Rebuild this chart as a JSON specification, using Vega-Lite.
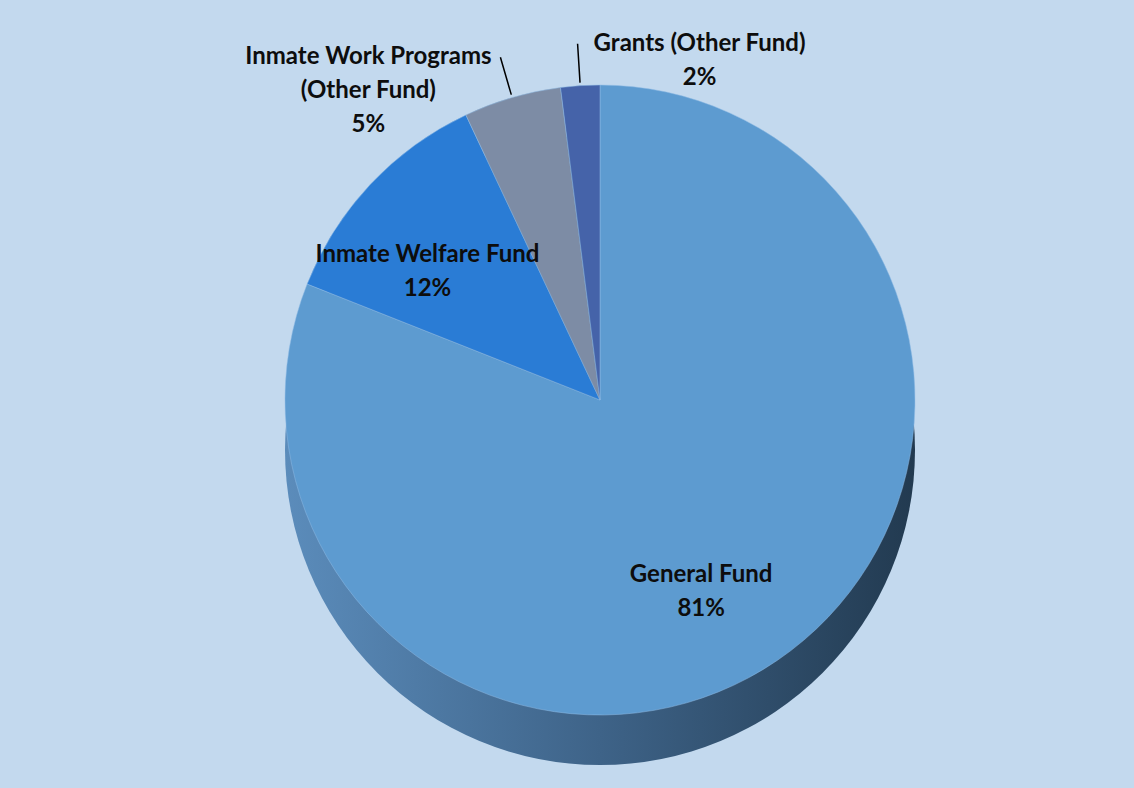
{
  "$schema": "https://vega.github.io/schema/vega-lite/v6.json",
  "autosize": "none",
  "padding": {"left": 66, "top": 12, "right": 0, "bottom": 0},
  "width": 1068,
  "height": 776,
  "background": "#C3D9EE",
  "config": {"view": {"stroke": null}},
  "data": {
    "values": [
      {"fund": "General Fund", "value": 81, "ord": 1, "inner": "General Fund\n81%", "outerL": "", "outerR": ""},
      {"fund": "Inmate Welfare Fund", "value": 12, "ord": 2, "inner": "Inmate Welfare Fund\n12%", "outerL": "", "outerR": ""},
      {"fund": "Inmate Work Programs (Other Fund)", "value": 5, "ord": 3, "inner": "", "outerL": "Inmate Work Programs\n(Other Fund)\n5%", "outerR": ""},
      {"fund": "Grants (Other Fund)", "value": 2, "ord": 4, "inner": "", "outerL": "", "outerR": "Grants (Other Fund)\n2%"}
    ]
  },
  "layer": [
    {
      "transform": [{"aggregate": [{"op": "sum", "field": "value", "as": "total"}]}],
      "mark": {
        "type": "arc",
        "outerRadius": 315,
        "yOffset": 50,
        "fill": {
          "gradient": "linear", "x1": 0, "x2": 1, "y1": 0, "y2": 0,
          "stops": [{"offset": 0, "color": "#5B8CBB"}, {"offset": 0.5, "color": "#3E6388"}, {"offset": 1, "color": "#223A50"}]
        }
      },
      "encoding": {"theta": {"field": "total", "type": "quantitative"}}
    },
    {
      "mark": {"type": "arc", "outerRadius": 315, "stroke": "#8FBBE4", "strokeWidth": 0.5},
      "encoding": {
        "theta": {"field": "value", "type": "quantitative", "stack": true},
        "order": {"field": "ord", "type": "quantitative"},
        "color": {
          "field": "fund", "type": "nominal", "legend": null,
          "scale": {
            "domain": ["General Fund", "Inmate Welfare Fund", "Inmate Work Programs (Other Fund)", "Grants (Other Fund)"],
            "range": ["#5D9BD0", "#2A7CD5", "#7D8CA5", "#4563A9"]
          }
        }
      }
    },
    {
      "mark": {"type": "arc", "innerRadius": 318, "outerRadius": 357, "padAngle": 0.5, "fill": null, "stroke": "#000000", "strokeWidth": 1.5},
      "encoding": {
        "theta": {"field": "value", "type": "quantitative", "stack": true},
        "order": {"field": "ord", "type": "quantitative"},
        "strokeOpacity": {"condition": {"test": "datum.inner === ''", "value": 1}, "value": 0}
      }
    },
    {
      "mark": {"type": "text", "radius": 212, "dx": -18, "font": "Lato", "fontWeight": "bold", "fontSize": 24, "color": "#0D0D0D", "lineBreak": "\n", "lineHeight": 34},
      "encoding": {
        "theta": {"field": "value", "type": "quantitative", "stack": true},
        "order": {"field": "ord", "type": "quantitative"},
        "text": {"field": "inner", "type": "nominal"}
      }
    },
    {
      "mark": {"type": "text", "radius": 357, "align": "center", "baseline": "middle", "dx": -132, "font": "Lato", "fontWeight": "bold", "fontSize": 24, "color": "#0D0D0D", "lineBreak": "\n", "lineHeight": 34},
      "encoding": {
        "theta": {"field": "value", "type": "quantitative", "stack": true},
        "order": {"field": "ord", "type": "quantitative"},
        "text": {"field": "outerL", "type": "nominal"}
      }
    },
    {
      "mark": {"type": "text", "radius": 357, "align": "center", "baseline": "middle", "dx": 122, "font": "Lato", "fontWeight": "bold", "fontSize": 24, "color": "#0D0D0D", "lineBreak": "\n", "lineHeight": 34},
      "encoding": {
        "theta": {"field": "value", "type": "quantitative", "stack": true},
        "order": {"field": "ord", "type": "quantitative"},
        "text": {"field": "outerR", "type": "nominal"}
      }
    }
  ]
}
